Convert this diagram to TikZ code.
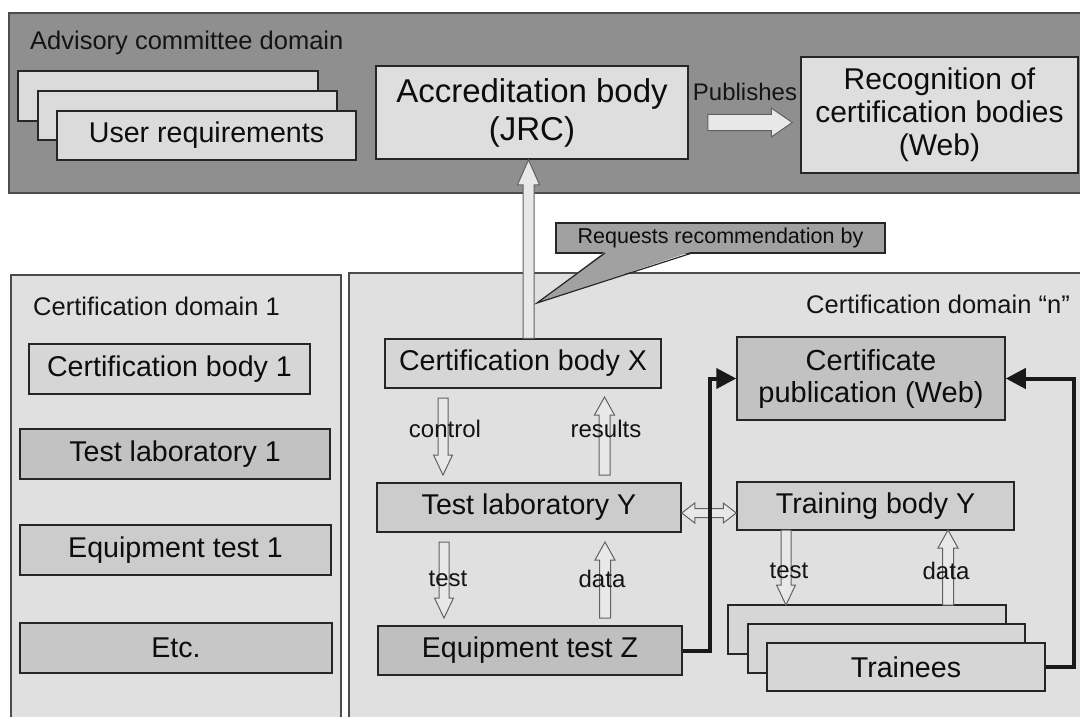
\documentclass[tikz,border=0pt]{standalone}
\usepackage{fontspec}
\setmainfont{Liberation Sans}
\usetikzlibrary{calc,arrows.meta}
\newcommand{\bxfont}{\fontsize{28.6}{32}\selectfont}
\newcommand{\acfont}{\fontsize{33}{38}\selectfont}
\newcommand{\rcfont}{\fontsize{30}{33}\selectfont}
\newcommand{\cpfont}{\fontsize{29}{32}\selectfont}
\newcommand{\dmfont}{\fontsize{25.5}{30}\selectfont}
\newcommand{\lbfont}{\fontsize{24}{28}\selectfont}
\newcommand{\rqfont}{\fontsize{21.5}{25}\selectfont}
% hollow block arrow: start, end, shaft half-width, head half-width, head length
\newcommand{\hollowarrow}[5]{%
  \coordinate (hbase) at ($(#2)!#5!(#1)$);
  \filldraw[harrow] ($(#1)!#3!90:(#2)$) -- ($(hbase)!#3!90:(#2)$) -- ($(hbase)!#4!90:(#2)$) -- (#2)
    -- ($(hbase)!#4!-90:(#2)$) -- ($(hbase)!#3!-90:(#2)$) -- ($(#1)!#3!-90:(#2)$) -- cycle;}
\newcommand{\doublehollow}[5]{%
  \coordinate (hbA) at ($(#1)!#5!(#2)$);
  \coordinate (hbB) at ($(#2)!#5!(#1)$);
  \filldraw[harrow] (#1) -- ($(hbA)!#4!90:(#2)$) -- ($(hbA)!#3!90:(#2)$) -- ($(hbB)!#3!90:(#2)$)
    -- ($(hbB)!#4!90:(#2)$) -- (#2) -- ($(hbB)!#4!-90:(#2)$) -- ($(hbB)!#3!-90:(#2)$)
    -- ($(hbA)!#3!-90:(#2)$) -- ($(hbA)!#4!-90:(#2)$) -- cycle;}
\begin{document}
\begin{tikzpicture}[x=1pt,y=-1pt,
  dom/.style={draw=black!70, line width=1.2pt},
  box/.style={draw=black!85, line width=1.5pt, inner sep=0pt, text=black!95, align=center, font=\bxfont},
  harrow/.style={fill=black!9, draw=black!62, line width=1pt, line join=miter},
  thk/.style={line width=4pt, draw=black!90, -{Triangle[length=20pt,width=20pt]}},
  lbl/.style={text=black!92, font=\lbfont, inner sep=0pt}]
\useasboundingbox (0,0) rectangle (1080,717);
\clip (0,0) rectangle (1080,717);
\fill[white] (0,0) rectangle (1080,717);
% domains
\filldraw[dom, fill=black!44] (9,13) rectangle (1095,193);
\filldraw[dom, fill=black!12] (11,275) rectangle (341,730);
\filldraw[dom, fill=black!12] (349,273) rectangle (1095,730);
\node[lbl, font=\dmfont, anchor=west] (advl) at (30,43) {Advisory committee domain};
\node[lbl, font=\dmfont, anchor=west] (d1l) at (33,306) {Certification domain 1};
\node[lbl, font=\dmfont, anchor=east] (dnl) at (1070,304) {Certification domain “n”};
% advisory domain
\node[box, fill=black!14, minimum width=300pt, minimum height=50pt] (ur3) at (168,96) {};
\node[box, fill=black!14, minimum width=299pt, minimum height=49pt] (ur2) at (187.5,115.5) {};
\node[box, fill=black!14, minimum width=299pt, minimum height=49pt] (ur1) at (206.5,135.5) {User requirements};
\node[box, fill=black!13, font=\acfont, minimum width=312pt, minimum height=93pt] (acc) at (532,112.5) {Accreditation body\\(JRC)};
\node[box, fill=black!13, font=\rcfont, minimum width=277pt, minimum height=116pt] (rec) at (939.5,115) {Recognition of\\certification bodies\\(Web)};
\node[lbl, font=\lbfont] (pub) at (745,92) {Publishes};
\coordinate (pS) at ($(acc.east)+(19,10)$);
\coordinate (pE) at ($(rec.west)+(-8,7.5)$);
\hollowarrow{pS}{pE}{8pt}{14.5pt}{21pt}
% callout
\node[box, fill=black!37, font=\rqfont, line width=1.2pt, minimum width=329pt, minimum height=30pt] (req) at (720.5,238) {Requests recommendation by};
\coordinate (tip) at (537,303);
\fill[black!37] (605,251.5) -- (tip) -- (692,251.5) -- cycle;
\draw[black!85, line width=1.2pt, line join=miter] (605,253) -- (tip) -- (692,253);
% certification domain 1
\node[box, fill=black!16, minimum width=281pt, minimum height=50pt] (cb1) at (169.5,369) {Certification body 1};
\node[box, fill=black!24, minimum width=310pt, minimum height=50pt] (tl1) at (175,454) {Test laboratory 1};
\node[box, fill=black!20, minimum width=311pt, minimum height=50pt] (et1) at (175.5,550) {Equipment test 1};
\node[box, fill=black!22, minimum width=312pt, minimum height=50pt] (etc) at (176,648) {Etc.};
% certification domain n
\node[box, fill=black!16, minimum width=276pt, minimum height=49pt] (cbx) at (523,363.5) {Certification body X};
\node[box, fill=black!24, font=\cpfont, minimum width=268pt, minimum height=83pt] (cpub) at (871,378.5) {Certificate\\publication (Web)};
\node[box, fill=black!20, minimum width=304pt, minimum height=49pt] (tly) at (529,507.5) {Test laboratory Y};
\node[box, fill=black!19, minimum width=277pt, minimum height=48pt] (tby) at (875.5,506) {Training body Y};
\node[box, fill=black!25, minimum width=304pt, minimum height=49pt] (etz) at (530,650.5) {Equipment test Z};
\node[box, fill=black!16, minimum width=278pt, minimum height=49pt] (tr3) at (867,629.5) {};
\node[box, fill=black!16, minimum width=277pt, minimum height=49pt] (tr2) at (886.5,648.5) {};
\node[box, fill=black!16, minimum width=278pt, minimum height=48pt] (tr1) at (906,667) {Trainees};
% vertical request arrow
\coordinate (vS) at ($(cbx.north)+(5.5,0)$);
\coordinate (vE) at ($(acc.south)+(-3.5,0)$);
\hollowarrow{vS}{vE}{5.5pt}{11pt}{25pt}
% hollow arrows in domain n
\coordinate (cS) at (443,398);  \coordinate (cE) at (443,475);
\coordinate (rS) at (604.5,475); \coordinate (rE) at (604.5,397);
\coordinate (tS) at (444,542);  \coordinate (tE) at (444,618);
\coordinate (dS) at (605,618);  \coordinate (dE) at (605,542);
\coordinate (ttS) at (786,530); \coordinate (ttE) at (786,605);
\coordinate (tdS) at (948,605); \coordinate (tdE) at (948,530);
\hollowarrow{cS}{cE}{5pt}{9.5pt}{20pt}
\hollowarrow{rS}{rE}{5.5pt}{10pt}{18pt}
\hollowarrow{tS}{tE}{5pt}{9.5pt}{20pt}
\hollowarrow{dS}{dE}{5.5pt}{10pt}{18pt}
\hollowarrow{ttS}{ttE}{5pt}{9.5pt}{20pt}
\hollowarrow{tdS}{tdE}{5.5pt}{10pt}{18pt}
\coordinate (dbS) at ($(tly.east)+(0,5.5)$);
\coordinate (dbE) at (dbS -| tby.west);
\doublehollow{dbS}{dbE}{4.5pt}{10pt}{13pt}
% labels
\node[lbl] (lctl) at (445,429) {control};
\node[lbl] (lres) at (606,429) {results};
\node[lbl] (ltst) at (448,579) {test};
\node[lbl] (ldat) at (602,579) {data};
\node[lbl] (lttst) at (789,571) {test};
\node[lbl] (ltdat) at (946,571) {data};
% thick connectors
\draw[thk] (etz.east) -- ++(27,0) |- (cpub.west);
\draw[thk] (tr1.east) -- ++(28,0) |- (cpub.east);
\end{tikzpicture}
\end{document}
